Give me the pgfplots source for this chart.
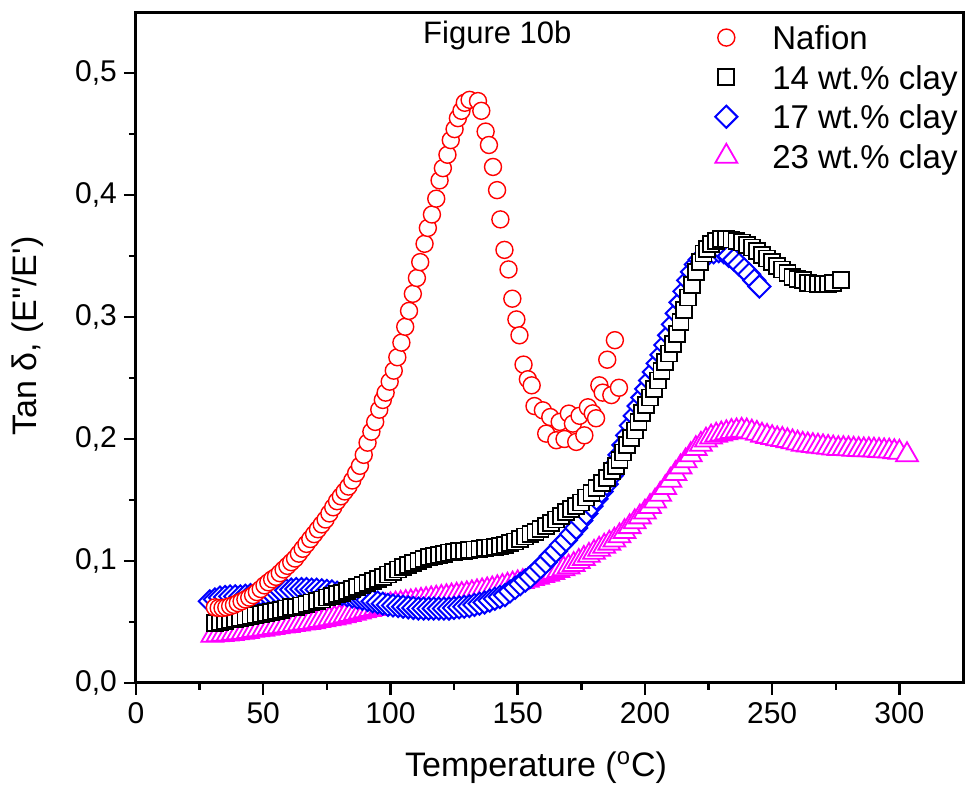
\documentclass[border=0pt]{standalone}
\usepackage{fontspec}
\setmainfont{Liberation Sans}
\usepackage{pgfplots}
\pgfplotsset{compat=1.18}
\definecolor{mg}{RGB}{255,0,255}
\begin{document}
\begin{tikzpicture}
\path[use as bounding box] (-68pt,-54pt) rectangle (415pt,341.5pt);
\begin{axis}[
  scale only axis, width=413.5pt, height=335.5pt,
  xmin=0, xmax=325, ymin=0, ymax=0.55,
  xtick={0,50,100,150,200,250,300}, ytick={0,0.1,0.2,0.3,0.4,0.5},
  minor x tick num=1, minor y tick num=1,
  tick pos=left, tick align=outside,
  major tick length=6pt, minor tick length=3.5pt,
  tick style={black, line width=1.2pt},
  axis line style={line width=1.5pt},
  /pgf/number format/assume math mode=true,
  ticklabel style={font=\fontsize{15}{18}\selectfont},
  yticklabel style={/pgf/number format/.cd, fixed, fixed zerofill, precision=1, use comma},
  xticklabel style={/pgf/number format/.cd, fixed, precision=0},
  xlabel={Temperature (\textsuperscript{o}C)},
  ylabel={Tan δ, (E\textquotesingle\textquotesingle/E\textquotesingle)},
  label style={font=\fontsize{17}{20}\selectfont},
  xlabel style={at={(axis description cs:0.4837,0)}, anchor=base, yshift=-47pt},
  ylabel style={at={(axis description cs:-0.1306,0.517)}, anchor=center},
  legend style={at={(rel axis cs:0.700,0.992)}, anchor=north west, draw=none, fill=none,
    inner sep=0pt, column sep=17.5pt, row sep=0pt,
    font=\fontsize{16.5}{19}\selectfont,
    nodes={inner sep=0pt, text height=15.9pt, text depth=3.9pt}},
  legend cell align=left, reverse legend,
]
% 23 wt.% clay
\addplot[only marks, mg, mark=triangle*, mark size=6.3pt, mark options={fill=white, draw=mg, line width=0.9pt}] coordinates {
(30,0.039) (32,0.0393) (34,0.0397) (36,0.040) (38,0.0405) (40,0.041) (42,0.0415) (44,0.042) (46,0.043) (48,0.0435)
(50,0.044) (52,0.0447) (54,0.0453) (56,0.046) (58,0.0465) (60,0.047) (62,0.0477) (64,0.0483) (66,0.049) (68,0.0495)
(70,0.050) (72,0.051) (74,0.0517) (76,0.0525) (78,0.0532) (80,0.054) (82,0.055) (84,0.056) (86,0.057) (88,0.058)
(90,0.059) (92,0.060) (94,0.061) (96,0.062) (98,0.063) (100,0.064) (102,0.0646) (104,0.0652) (106,0.0658) (108,0.0664)
(110,0.067) (112,0.0676) (114,0.0682) (116,0.0688) (118,0.0694) (120,0.070) (122,0.0706) (124,0.0712) (126,0.0718) (128,0.0724)
(130,0.073) (132,0.0738) (134,0.0746) (136,0.0754) (138,0.0762) (140,0.077) (142,0.078) (144,0.079) (146,0.080) (148,0.081)
(150,0.082) (152,0.083) (154,0.084) (156,0.0855) (158,0.0865) (160,0.088) (162,0.089) (164,0.0905) (166,0.092) (168,0.0935)
(170,0.095) (172,0.097) (174,0.0995) (176,0.102) (178,0.1045) (180,0.107) (182,0.1095) (184,0.112) (186,0.1145) (188,0.117)
(190,0.1205) (192,0.124) (194,0.128) (196,0.132) (198,0.136) (200,0.140) (202,0.1445) (204,0.149) (206,0.1545) (208,0.160)
(210,0.166) (212,0.1715) (214,0.177) (216,0.182) (218,0.187) (220,0.192) (222,0.1955) (224,0.199) (226,0.2015) (228,0.203)
(230,0.204) (232,0.205) (234,0.206) (236,0.2065) (238,0.207) (240,0.2065) (242,0.2055) (244,0.2045) (246,0.203) (248,0.202)
(250,0.201) (252,0.200) (254,0.1995) (256,0.1985) (258,0.1975) (260,0.1965) (262,0.1955) (264,0.195) (266,0.1945) (268,0.194)
(270,0.1935) (272,0.193) (274,0.1925) (276,0.192) (278,0.192) (280,0.1918) (282,0.1915) (284,0.1912) (286,0.191) (288,0.191)
(290,0.1908) (292,0.1905) (294,0.1902) (296,0.190) (298,0.1895) (300,0.189) (303,0.187)
};
\addlegendentry{23 wt.\% clay}
% 17 wt.% clay
\addplot[only marks, blue, mark=square*, mark size=3.9pt, mark options={rotate=45, fill=white, draw=blue, line width=1pt}] coordinates {
(29,0.067) (31,0.0685) (33,0.070) (35,0.0705) (37,0.071) (39,0.071) (41,0.071) (43,0.0715) (45,0.072) (47,0.0725)
(49,0.073) (51,0.0735) (53,0.074) (55,0.075) (57,0.0755) (59,0.076) (61,0.0765) (63,0.077) (65,0.077) (67,0.077)
(69,0.0765) (71,0.0765) (73,0.076) (75,0.0755) (77,0.075) (79,0.074) (81,0.073) (83,0.072) (85,0.071) (87,0.070)
(89,0.069) (91,0.068) (93,0.067) (95,0.066) (97,0.065) (99,0.064) (101,0.0635) (103,0.063) (105,0.0625) (107,0.062)
(109,0.0615) (111,0.061) (113,0.061) (115,0.061) (117,0.061) (119,0.061) (121,0.061) (123,0.061) (125,0.0615) (127,0.062)
(129,0.0625) (131,0.063) (133,0.064) (135,0.065) (137,0.066) (139,0.0675) (141,0.069) (143,0.0705) (145,0.072) (147,0.075)
(149,0.078) (151,0.081) (153,0.084) (155,0.087) (157,0.091) (159,0.095) (161,0.099) (163,0.104) (165,0.108) (167,0.113)
(169,0.117) (171,0.122) (173,0.127) (175,0.133) (177,0.139) (179,0.145) (181,0.151) (183,0.157) (185,0.163) (187,0.170)
(188.5,0.179) (190,0.187) (191.5,0.195) (193,0.203) (194.5,0.211) (196,0.219) (197.5,0.227) (199,0.234) (200.5,0.241) (202,0.248)
(203.5,0.255) (205,0.262) (206.5,0.269) (208,0.277) (209.5,0.285) (211,0.294) (212.5,0.303) (214,0.312) (215.5,0.321) (217,0.330)
(218.5,0.337) (220,0.343) (221.5,0.347) (223,0.350) (225,0.352) (227,0.353) (229,0.354) (231,0.353) (233,0.350) (235,0.347)
(237,0.343) (239,0.339) (241,0.335) (243,0.330) (245,0.325)
};
\addlegendentry{17 wt.\% clay}
% 14 wt.% clay
\addplot[only marks, black, mark=square*, mark size=4pt, mark options={fill=white, draw=black, line width=0.9pt}] coordinates {
(31,0.049) (33,0.050) (35,0.051) (37,0.052) (39,0.0525) (41,0.053) (43,0.054) (45,0.055) (47,0.056) (49,0.0565)
(51,0.0575) (53,0.0585) (55,0.059) (57,0.060) (59,0.061) (61,0.062) (63,0.0625) (65,0.0635) (67,0.065) (69,0.066)
(71,0.067) (73,0.0685) (75,0.070) (77,0.0715) (79,0.073) (81,0.074) (83,0.0755) (85,0.077) (87,0.0785) (89,0.080)
(91,0.082) (93,0.0835) (95,0.085) (97,0.087) (99,0.089) (101,0.091) (103,0.093) (105,0.095) (107,0.097) (109,0.0985)
(111,0.100) (113,0.1015) (115,0.103) (117,0.104) (119,0.105) (121,0.106) (123,0.107) (125,0.1075) (127,0.108) (129,0.1085)
(131,0.109) (133,0.1095) (135,0.110) (137,0.1105) (139,0.111) (141,0.1115) (143,0.112) (145,0.113) (147,0.1145) (149,0.116)
(151,0.118) (153,0.120) (155,0.122) (157,0.124) (159,0.1265) (161,0.129) (163,0.131) (165,0.134) (167,0.137) (169,0.140)
(171,0.1425) (173,0.145) (175,0.148) (177,0.152) (179,0.156) (181,0.160) (183,0.164) (185,0.168) (187,0.174) (188.5,0.178)
(190,0.183) (191.5,0.189) (193,0.195) (194.5,0.201) (196,0.207) (197.5,0.214) (199,0.221) (200.5,0.228) (202,0.234) (203.5,0.241)
(205,0.248) (206.5,0.256) (208,0.263) (209.5,0.270) (211,0.278) (212.5,0.286) (214,0.296) (215.5,0.306) (217,0.316) (218.5,0.326)
(220,0.337) (221.5,0.345) (223,0.352) (224.5,0.356) (226,0.360) (228,0.362) (230,0.364) (232,0.364) (234,0.3635) (236,0.3625)
(238,0.361) (240,0.359) (242,0.357) (244,0.354) (246,0.351) (248,0.348) (250,0.345) (252,0.342) (254,0.339) (256,0.336)
(258,0.333) (260,0.331) (262,0.330) (264,0.328) (266,0.3275) (268,0.327) (270,0.327) (272,0.327) (274,0.328) (277,0.330)
};
\addlegendentry{14 wt.\% clay}
% Nafion
\addplot[only marks, red, mark=*, mark size=4.25pt, mark options={fill=white, draw=red, line width=0.7pt}] coordinates {
(31,0.062) (32.5,0.0615) (34,0.0615) (35.5,0.062) (37,0.063) (38.5,0.064) (40,0.0655) (41.5,0.067) (43,0.0685) (44.5,0.070)
(46,0.072) (47.5,0.0745) (49,0.077) (50.5,0.080) (52,0.0825) (53.5,0.085) (55,0.087) (56.5,0.090) (58,0.093) (59.5,0.096)
(61,0.099) (62.5,0.102) (64,0.106) (65.5,0.110) (67,0.114) (68.5,0.118) (70,0.122) (71.5,0.126) (73,0.130) (74.5,0.134)
(76,0.139) (77.5,0.144) (79,0.149) (80.5,0.153) (82,0.157) (83.5,0.161) (85,0.166) (86.5,0.172) (88,0.178) (89.5,0.187)
(91,0.197) (92.5,0.206) (94,0.214) (95.6,0.224) (97,0.232) (98.1,0.238) (99.7,0.247) (101.3,0.256) (102.7,0.267) (104.3,0.279)
(105.8,0.292) (107.3,0.305) (108.8,0.319) (110.4,0.332) (111.7,0.345) (113.4,0.360) (114.7,0.373) (116.3,0.384) (118,0.397) (119.3,0.412)
(120.6,0.422) (122.4,0.433) (123.7,0.445) (125.2,0.454) (126.5,0.463) (127.9,0.469) (129.2,0.4756) (131.1,0.478) (134.4,0.477) (135.7,0.469)
(137.4,0.452) (138.7,0.441) (140.3,0.423) (141.9,0.404) (143.2,0.380) (144.8,0.355) (146.4,0.339) (147.9,0.315) (149.5,0.298) (150.7,0.285)
(152.3,0.261) (154,0.249) (155.5,0.244) (156.6,0.227) (159.9,0.2235) (161.2,0.2044) (162.8,0.218) (165.2,0.199) (166.5,0.214) (168.4,0.200)
(170.1,0.2208) (171.7,0.2126) (173,0.1976) (174.3,0.219) (176.2,0.203) (177.6,0.226) (179.5,0.221) (180.8,0.217) (182.1,0.244) (183.4,0.238)
(185.2,0.265) (186.8,0.236) (188.2,0.281) (189.8,0.242)
};
\addlegendentry{Nafion}
\node[anchor=base, font=\fontsize{15.5}{18}\selectfont] at (axis cs:142,0.524) {Figure 10b};
\draw[line width=1.5pt] ([xshift=-4pt]rel axis cs:0,1) -- (rel axis cs:0,1);
\end{axis}
\end{tikzpicture}
\end{document}
